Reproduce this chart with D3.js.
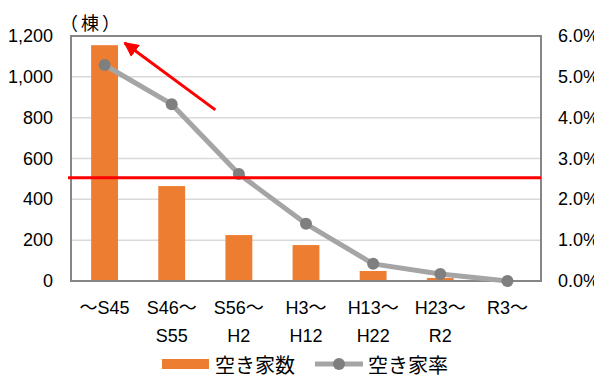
<!DOCTYPE html>
<html>
<head>
<meta charset="utf-8">
<script src="https://cdn.jsdelivr.net/npm/d3@7"></script>
<style>
  html, body { margin: 0; padding: 0; background: #fff; }
  svg { display: block; }
  text { font-family: "Liberation Sans", Arial, "Noto Sans CJK JP", sans-serif; fill: #000; }
  text.jp { font-family: "Noto Sans CJK JP", sans-serif; }
</style>
</head>
<body>
<svg id="chart" width="594" height="376"></svg>
<script>
// Construction period categories (two-line labels)
const periods = ["〜S45", "S46〜\nS55", "S56〜\nH2", "H3〜\nH12", "H13〜\nH22", "H23〜\nR2", "R3〜"];
// Number of vacant houses (棟)
const vacantCounts = [1155, 465, 225, 176, 49, 15, 0];
// Vacancy rate (%)
const vacantRates = [5.29, 4.33, 2.62, 1.40, 0.42, 0.17, 0.0];
const leftTicks = [0, 200, 400, 600, 800, 1000, 1200];
const rightTicks = [0, 1, 2, 3, 4, 5, 6];
// Reference line level (棟) and the arrow annotation, in (category index, 棟)
const refLevel = 506;
const arrowFrom = [1.65, 838];
const arrowTo = [0.30, 1166];

const svg = d3.select("#chart");
const m = { left: 71, right: 541, top: 36, bottom: 281 };

const x = d3.scaleBand().domain(d3.range(periods.length)).range([m.left, m.right]).paddingInner(0.6).paddingOuter(0.3);
const xc = i => x(i) + x.bandwidth() / 2;
const xi = d3.scaleLinear().domain([0, 1]).range([xc(0), xc(1)]);
const y = d3.scaleLinear().domain([0, 1200]).range([m.bottom, m.top]);
const y2 = d3.scaleLinear().domain([0, 6]).range([m.bottom, m.top]);

// Gridlines
svg.append("g").selectAll("line").data(leftTicks.slice(1, -1)).join("line")
  .attr("x1", m.left).attr("x2", m.right)
  .attr("y1", d => y(d)).attr("y2", d => y(d))
  .attr("stroke", "#d9d9d9").attr("stroke-width", 1.5);

// Bars
svg.append("g").selectAll("rect").data(vacantCounts).join("rect")
  .attr("x", (d, i) => x(i)).attr("width", x.bandwidth())
  .attr("y", d => y(d)).attr("height", d => m.bottom - y(d))
  .attr("fill", "#ed7d31");

// Plot frame
svg.append("rect").attr("x", m.left).attr("y", m.top)
  .attr("width", m.right - m.left).attr("height", m.bottom - m.top)
  .attr("fill", "none").attr("stroke", "#868686").attr("stroke-width", 2);

// Rate line
svg.append("path").datum(vacantRates)
  .attr("d", d3.line().x((d, i) => xc(i)).y(d => y2(d)))
  .attr("fill", "none").attr("stroke", "#a5a5a5").attr("stroke-width", 5).attr("stroke-linejoin", "round");
svg.append("g").selectAll("circle").data(vacantRates).join("circle")
  .attr("cx", (d, i) => xc(i)).attr("cy", d => y2(d)).attr("r", 6)
  .attr("fill", "#7f7f7f");

// Reference line
svg.append("line").attr("x1", m.left - 3).attr("x2", m.right)
  .attr("y1", y(refLevel)).attr("y2", y(refLevel))
  .attr("stroke", "#ff0000").attr("stroke-width", 3);

// Arrow
svg.append("defs").append("marker").attr("id", "ah")
  .attr("viewBox", "0 0 10 10").attr("refX", 9).attr("refY", 5)
  .attr("markerWidth", 5).attr("markerHeight", 5).attr("markerUnits", "strokeWidth")
  .attr("orient", "auto")
  .append("path").attr("d", "M0,0 L10,5 L0,10 Z").attr("fill", "#ff0000");
svg.append("line")
  .attr("x1", xi(arrowFrom[0])).attr("y1", y(arrowFrom[1]))
  .attr("x2", xi(arrowTo[0])).attr("y2", y(arrowTo[1]))
  .attr("stroke", "#ff0000").attr("stroke-width", 3).attr("marker-end", "url(#ah)");

// Left axis labels
svg.append("g").selectAll("text").data(leftTicks).join("text")
  .attr("x", 53).attr("y", d => y(d)).attr("text-anchor", "end")
  .attr("dominant-baseline", "central").attr("font-size", 18)
  .text(d3.format(","));

// Right axis labels
svg.append("g").selectAll("text").data(rightTicks).join("text")
  .attr("x", 558).attr("y", d => y2(d)).attr("text-anchor", "start")
  .attr("dominant-baseline", "central").attr("font-size", 18)
  .text(d => d.toFixed(1) + "%");

// Unit label
svg.append("text").attr("class", "jp").attr("x", 60).attr("y", 22).attr("text-anchor", "start")
  .attr("dominant-baseline", "central").attr("font-size", 18).attr("letter-spacing", 3)
  .text("（棟）");

// Category labels
const xl = svg.append("g").selectAll("text").data(periods).join("text")
  .attr("x", (d, i) => xc(i)).attr("y", 308).attr("text-anchor", "middle")
  .attr("font-size", 18);
xl.selectAll("tspan").data(d => d.split("\n")).join("tspan")
  .attr("x", function () { return this.parentNode.getAttribute("x"); })
  .attr("y", (d, j) => 308 + j * 28)
  .attr("dominant-baseline", "central")
  .text(d => d);

// Legend
const lg = svg.append("g");
lg.append("rect").attr("x", 162).attr("y", 359).attr("width", 47).attr("height", 10).attr("fill", "#ed7d31");
lg.append("text").attr("class", "jp").attr("x", 215).attr("y", 364).attr("dominant-baseline", "central")
  .attr("font-size", 20).text("空き家数");
lg.append("line").attr("x1", 315).attr("x2", 363).attr("y1", 364).attr("y2", 364)
  .attr("stroke", "#a5a5a5").attr("stroke-width", 5);
lg.append("circle").attr("cx", 339).attr("cy", 364).attr("r", 6).attr("fill", "#7f7f7f");
lg.append("text").attr("class", "jp").attr("x", 368).attr("y", 364).attr("dominant-baseline", "central")
  .attr("font-size", 20).text("空き家率");
</script>
</body>
</html>
